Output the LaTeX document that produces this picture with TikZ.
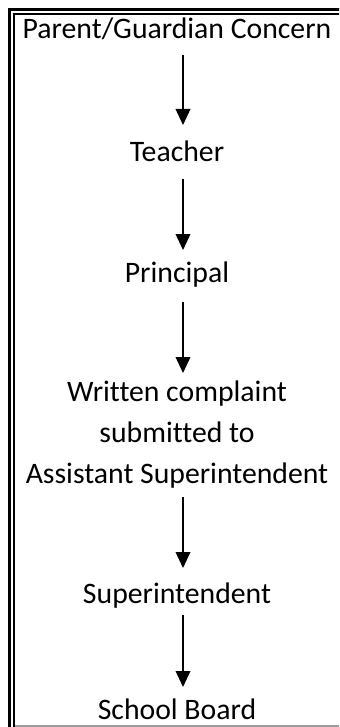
\documentclass[tikz,border=0pt]{standalone}
\usepackage{fontspec}
\setmainfont{Carlito}[Ligatures={NoCommon}]
\usetikzlibrary{arrows.meta}
\tikzset{
  label text/.style={anchor=base, font=\fontsize{22.3}{30.75}\selectfont, text=black, inner sep=0pt},
  multi text/.style={label text, align=center},
  flow/.style={line width=1.2pt, -{Triangle[length=12pt,width=11pt]}, shorten >=0pt, shorten <=0pt},
  frameouter/.style={line width=2.25pt},
  frameinner/.style={line width=1.1pt},
}
\begin{document}
\begin{tikzpicture}[x=0.75pt,y=-0.75pt]
\useasboundingbox (0,0) rectangle (339,727);
\begin{scope}
\clip (0,0) rectangle (339,727);
\draw[frameouter] (9.5,740) -- (9.5,9.5) -- (360,9.5);
\draw[frameinner] (13.8,740) -- (13.8,13.8) -- (360,13.8);
\draw[line width=1.5pt, black!38] (14.5,726) -- (360,726);
\end{scope}
\node[label text] (n1) at (177,39) {Parent/Guardian Concern};
\node[label text] (n2) at (177,162) {Teacher};
\node[label text] (n3) at (177,282) {Principal};
\node[multi text, anchor=north] (n4) at (177,381) {Written complaint\\submitted to\\Assistant Superintendent};
\node[label text] (n5) at (177,603) {Superintendent};
\node[label text] (n6) at (177,719) {School Board};
\coordinate (a1s) at (183,55);  \coordinate (a1e) at (183,125);
\coordinate (a2s) at (183,179); \coordinate (a2e) at (183,250);
\coordinate (a3s) at (183,302); \coordinate (a3e) at (183,373);
\coordinate (a4s) at (183,497); \coordinate (a4e) at (183,568);
\coordinate (a5s) at (183,615); \coordinate (a5e) at (183,687);
\draw[flow] (a1s) -- (a1e);
\draw[flow] (a2s) -- (a2e);
\draw[flow] (a3s) -- (a3e);
\draw[flow] (a4s) -- (a4e);
\draw[flow] (a5s) -- (a5e);
\end{tikzpicture}
\end{document}
